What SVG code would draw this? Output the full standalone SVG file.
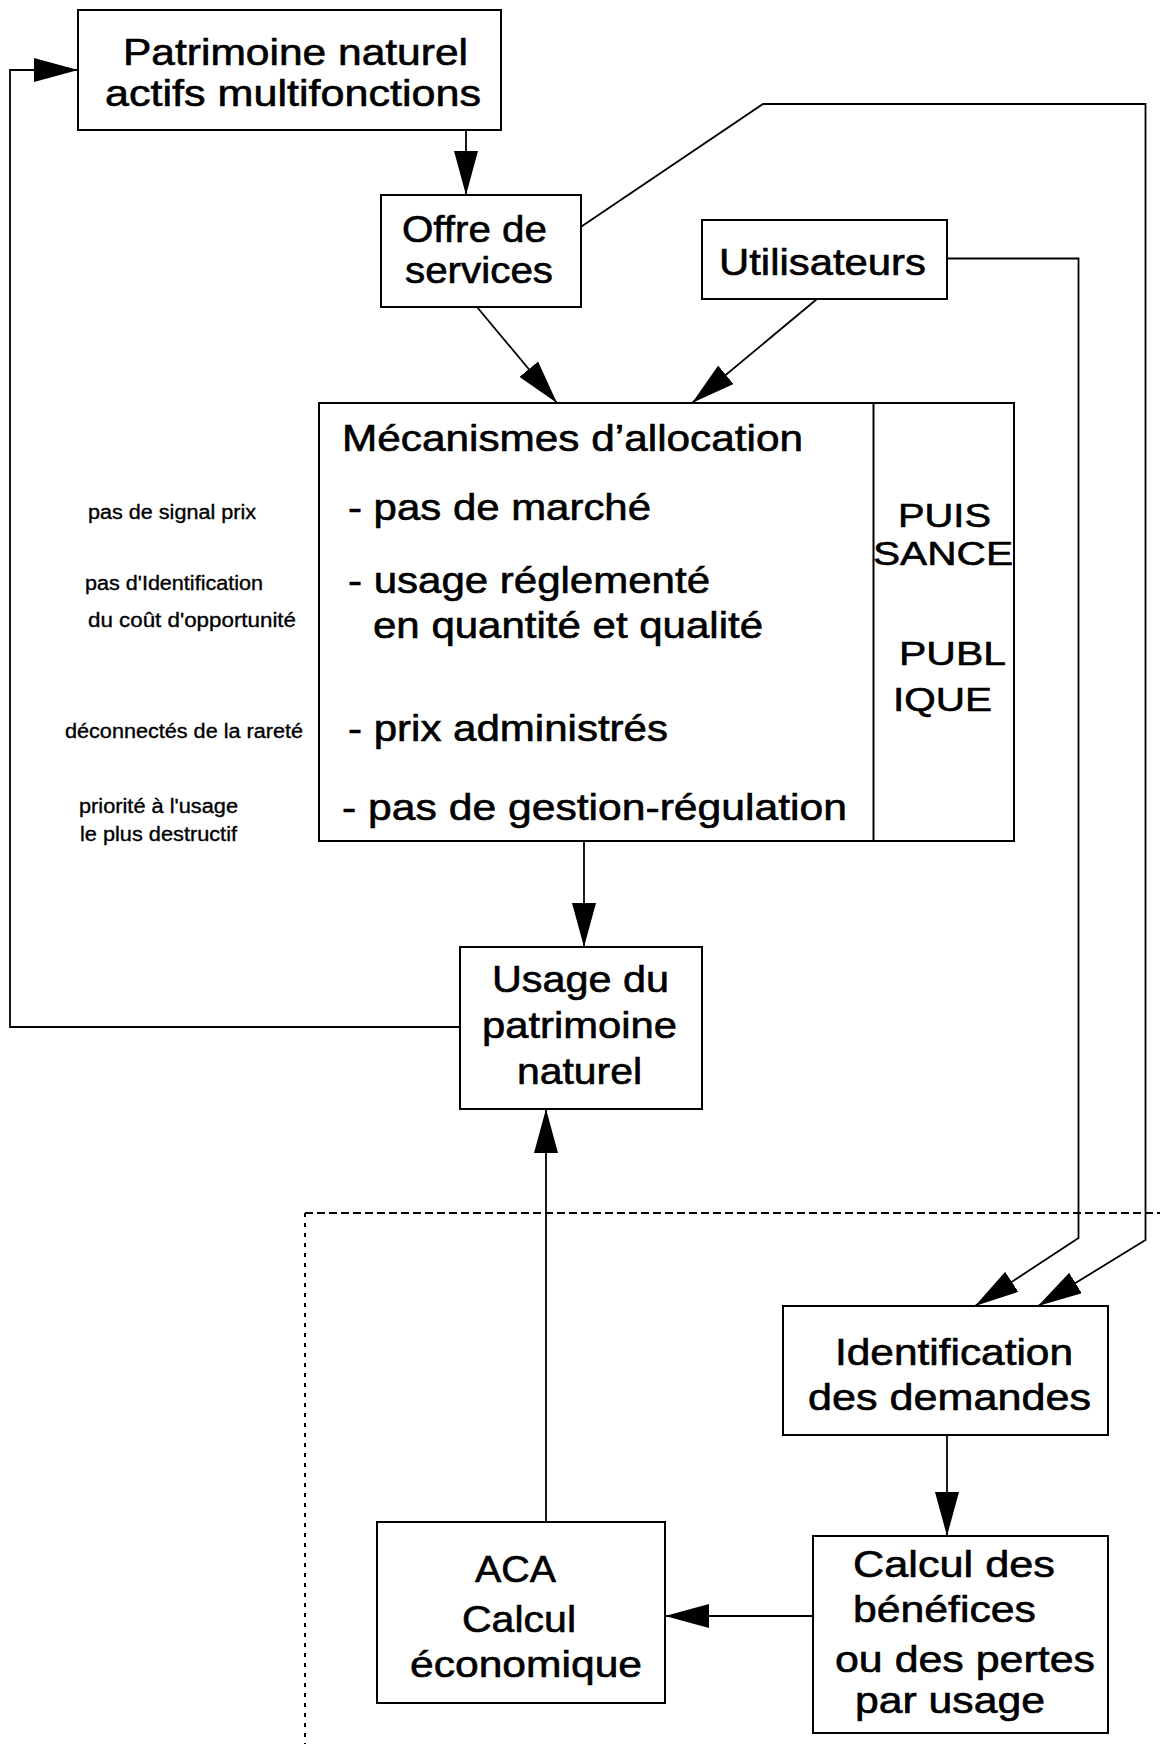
<svg xmlns="http://www.w3.org/2000/svg" width="1160" height="1744" viewBox="0 0 1160 1744">
<style>
.box{fill:#fff;stroke:#000;stroke-width:2}
.ln{fill:none;stroke:#000;stroke-width:1.8}
.t{font-family:"Liberation Sans",Arial,sans-serif;font-size:36px;fill:#000;stroke:#000;stroke-width:0.6;lengthAdjust:spacingAndGlyphs}
.ts{font-family:"Liberation Sans",Arial,sans-serif;font-size:34px;fill:#000;stroke:#000;stroke-width:0.6}
.n{font-family:"Liberation Sans",Arial,sans-serif;font-size:20px;fill:#000;stroke:#000;stroke-width:0.35}
.dh{fill:none;stroke:#000;stroke-width:2;stroke-dasharray:8 4}
.dv{fill:none;stroke:#000;stroke-width:2;stroke-dasharray:4 6}
</style>
<defs>
<marker id="ah" viewBox="0 0 44 24" refX="44" refY="12" markerWidth="44" markerHeight="24" markerUnits="userSpaceOnUse" orient="auto">
<path d="M0,0 L44,12 L0,24 z" fill="#000"/>
</marker>
</defs>
<rect width="1160" height="1744" fill="#fff"/>

<g id="connectors">
<path class="ln" d="M460,1027 H10 V70 H78" marker-end="url(#ah)"/>
<path class="ln" d="M466,130 V195" marker-end="url(#ah)"/>
<path class="ln" d="M477,307 L557,403" marker-end="url(#ah)"/>
<path class="ln" d="M817,299 L692,403" marker-end="url(#ah)"/>
<path class="ln" d="M580.7,227 L763,104 H1145.5 V1240 L1038,1306" marker-end="url(#ah)"/>
<path class="ln" d="M947,258.5 H1078.5 V1238 L975,1306" marker-end="url(#ah)"/>
<path class="ln" d="M584,841 V947" marker-end="url(#ah)"/>
<path class="ln" d="M546,1522 V1109" marker-end="url(#ah)"/>
<path class="ln" d="M947,1435 V1536" marker-end="url(#ah)"/>
<path class="ln" d="M813,1616 H665" marker-end="url(#ah)"/>
</g>

<g id="zone">
<path class="dh" d="M305,1213 H1160"/>
<path class="dv" d="M305,1213 V1744"/>
</g>

<g id="patrimoine">
<rect class="box" x="78" y="10" width="423" height="120"/>
<text class="t" x="123" y="65" textLength="345" lengthAdjust="spacingAndGlyphs">Patrimoine naturel</text>
<text class="t" x="105" y="106" textLength="376" lengthAdjust="spacingAndGlyphs">actifs multifonctions</text>
</g>

<g id="offre">
<rect class="box" x="381" y="195" width="200" height="112"/>
<text class="t" x="402" y="242" textLength="145" lengthAdjust="spacingAndGlyphs">Offre de</text>
<text class="t" x="405" y="283" textLength="148" lengthAdjust="spacingAndGlyphs">services</text>
</g>

<g id="utilisateurs">
<rect class="box" x="702" y="220" width="245" height="79"/>
<text class="t" x="719" y="275" textLength="207" lengthAdjust="spacingAndGlyphs">Utilisateurs</text>
</g>

<g id="mecanismes">
<rect class="box" x="319" y="403" width="695" height="438"/>
<line class="ln" x1="873.5" y1="403" x2="873.5" y2="841" style="stroke-width:2"/>
<text class="t" x="342" y="451" textLength="461" lengthAdjust="spacingAndGlyphs">Mécanismes d’allocation</text>
<text class="t" x="348" y="520" textLength="303" lengthAdjust="spacingAndGlyphs">- pas de marché</text>
<text class="t" x="348" y="593" textLength="362" lengthAdjust="spacingAndGlyphs">- usage réglementé</text>
<text class="t" x="373" y="638" textLength="390" lengthAdjust="spacingAndGlyphs">en quantité et qualité</text>
<text class="t" x="348" y="741" textLength="320" lengthAdjust="spacingAndGlyphs">- prix administrés</text>
<text class="t" x="342" y="820" textLength="505" lengthAdjust="spacingAndGlyphs">- pas de gestion-régulation</text>
<g id="puissance-publique">
<text class="ts" x="898" y="527" textLength="93" lengthAdjust="spacingAndGlyphs">PUIS</text>
<text class="ts" x="873" y="565" textLength="140" lengthAdjust="spacingAndGlyphs">SANCE</text>
<text class="ts" x="899" y="665" textLength="107" lengthAdjust="spacingAndGlyphs">PUBL</text>
<text class="ts" x="893" y="711" textLength="99" lengthAdjust="spacingAndGlyphs">IQUE</text>
</g>
</g>

<g id="notes">
<text class="n" x="88" y="519" textLength="168" lengthAdjust="spacingAndGlyphs">pas de signal prix</text>
<text class="n" x="85" y="590" textLength="178" lengthAdjust="spacingAndGlyphs">pas d'Identification</text>
<text class="n" x="88" y="627" textLength="208" lengthAdjust="spacingAndGlyphs">du coût d'opportunité</text>
<text class="n" x="65" y="738" textLength="238" lengthAdjust="spacingAndGlyphs">déconnectés de la rareté</text>
<text class="n" x="79" y="813" textLength="159" lengthAdjust="spacingAndGlyphs">priorité à l'usage</text>
<text class="n" x="80" y="841" textLength="157" lengthAdjust="spacingAndGlyphs">le plus destructif</text>
</g>

<g id="usage">
<rect class="box" x="460" y="947" width="242" height="162"/>
<text class="t" x="492" y="992" textLength="177" lengthAdjust="spacingAndGlyphs">Usage du</text>
<text class="t" x="482" y="1038" textLength="195" lengthAdjust="spacingAndGlyphs">patrimoine</text>
<text class="t" x="517" y="1084" textLength="125" lengthAdjust="spacingAndGlyphs">naturel</text>
</g>

<g id="identification">
<rect class="box" x="783" y="1306" width="325" height="129"/>
<text class="t" x="835" y="1365" textLength="238" lengthAdjust="spacingAndGlyphs">Identification</text>
<text class="t" x="808" y="1410" textLength="283" lengthAdjust="spacingAndGlyphs">des demandes</text>
</g>

<g id="calcul">
<rect class="box" x="813" y="1536" width="295" height="197"/>
<text class="t" x="853" y="1577" textLength="202" lengthAdjust="spacingAndGlyphs">Calcul des</text>
<text class="t" x="853" y="1622" textLength="183" lengthAdjust="spacingAndGlyphs">bénéfices</text>
<text class="t" x="835" y="1672" textLength="260" lengthAdjust="spacingAndGlyphs">ou des pertes</text>
<text class="t" x="855" y="1713" textLength="190" lengthAdjust="spacingAndGlyphs">par usage</text>
</g>

<g id="aca">
<rect class="box" x="377" y="1522" width="288" height="181"/>
<text class="t" x="475" y="1582" textLength="81" lengthAdjust="spacingAndGlyphs">ACA</text>
<text class="t" x="462" y="1632" textLength="114" lengthAdjust="spacingAndGlyphs">Calcul</text>
<text class="t" x="410" y="1677" textLength="232" lengthAdjust="spacingAndGlyphs">économique</text>
</g>
</svg>
